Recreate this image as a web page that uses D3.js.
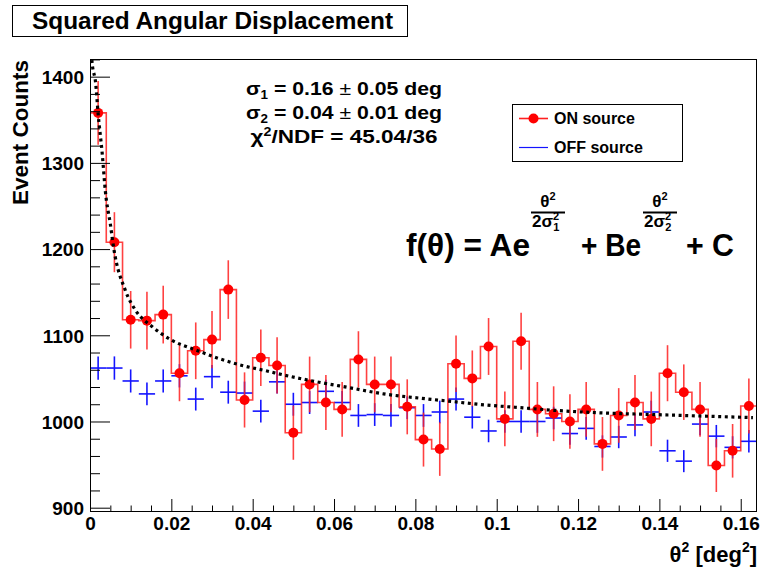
<!DOCTYPE html>
<html><head><meta charset="utf-8">
<script src="https://cdn.jsdelivr.net/npm/d3@7"></script>
<style>
body{margin:0;background:#fff}
svg{display:block}
text{font-family:"Liberation Sans",Arial,Helvetica,sans-serif;font-weight:bold;fill:#000}
</style>
</head><body>
<svg id="c" width="765" height="571"></svg>
<script>
// ---------- data ----------
const binCenters = [0.002,0.006,0.010,0.014,0.018,0.022,0.026,0.030,0.034,0.038,
  0.042,0.046,0.050,0.054,0.058,0.062,0.066,0.070,0.074,0.078,
  0.082,0.086,0.090,0.094,0.098,0.102,0.106,0.110,0.114,0.118,
  0.122,0.126,0.130,0.134,0.138,0.142,0.146,0.150,0.154,0.158,0.162];
const binHalfWidth = 0.002;
const onCounts = [1358,1208,1118,1117,1124,1056,1082,1095,1153,1025,
  1074,1065,987,1043,1022,1014,1072,1043,1043,1017,
  979,968,1067,1050,1087,1003,1093,1014,1009,1000,
  1014,974,1007,1022,1003,1056,1034,1014,949,966,1018];
const onErrors = [36.9,34.8,33.4,33.4,33.5,32.5,32.9,33.1,34.0,32.0,
  32.8,32.6,31.4,32.3,32.0,31.8,32.7,32.3,32.3,31.9,
  31.3,31.1,32.7,32.4,33.0,31.7,33.1,31.8,31.8,31.6,
  31.8,31.2,31.7,32.0,31.7,32.5,32.2,31.8,30.8,31.1,31.9];
const offCounts = [1062,1062,1047,1032,1047,1053,1026,1052,1034,1033,
  1012,1046,1020,1022,1035,1022,1007,1008,1007,1016,
  1007,1011,1026,1005,989,1000,1000,1000,1004,986,
  992,971,982,996,1011,966,954,997,983,970,977];
const offErrors = [13.5,13.5,13.4,13.3,13.4,13.5,13.3,13.5,13.3,13.3,
  13.2,13.4,13.3,13.3,13.3,13.3,13.2,13.2,13.2,13.2,
  13.2,13.2,13.3,13.2,13.1,13.1,13.1,13.1,13.1,13.0,
  13.1,12.9,13.0,13.1,13.2,12.9,12.8,13.1,13.0,12.9,13.0];
// fit curve
const fitX = [0,0.0005,0.0014,0.002,0.003,0.0038,0.005,0.0058,0.0087,0.0112,0.0153,0.0202,0.026,0.0317,0.0374,0.0431,0.0476,0.0558,0.064,0.0722,0.0812,0.0894,0.0976,0.1058,0.114,0.1255,0.139,0.156,0.163];
const fitY = [1450,1417,1392,1357,1311,1266,1229,1202,1152,1129,1110,1094,1083,1073,1065,1059,1054,1046,1039,1032,1027,1023,1019,1016,1013,1010,1008,1005.5,1004.5];
const xMajorTicks = [0,0.02,0.04,0.06,0.08,0.10,0.12,0.14,0.16];
const xTickLabels = ["0","0.02","0.04","0.06","0.08","0.1","0.12","0.14","0.16"];
const xMinorTicks = [0.005,0.01,0.015,0.025,0.03,0.035,0.045,0.05,0.055,0.065,0.07,0.075,0.085,0.09,0.095,0.105,0.11,0.115,0.125,0.13,0.135,0.145,0.15,0.155];
const yMajorTicks = [900,1000,1100,1200,1300,1400];
const yTickLabels = ["900","1000","1100","1200","1300","1400"];
const yMinorTicks = [920,940,960,980,1020,1040,1060,1080,1120,1140,1160,1180,1220,1240,1260,1280,1320,1340,1360,1380,1420];
const xDomain = [0,0.164];
const yDomain = [895,1420.5];

// ---------- chart ----------
const svg = d3.select("#c");
const L=90, R=757, T=59, B=512;
const x = d3.scaleLinear().domain(xDomain).range([L,R]);
const y = d3.scaleLinear().domain(yDomain).range([B,T]);

svg.append("rect").attr("width",765).attr("height",571).attr("fill","#fff");
svg.append("defs").append("clipPath").attr("id","clip")
  .append("rect").attr("x",L).attr("y",T).attr("width",R-L).attr("height",B-T);

const plot = svg.append("g").attr("clip-path","url(#clip)");

// OFF source crosses (blue)
const blue="#1414ff";
const offG = plot.append("g").attr("stroke",blue).attr("stroke-width",1.6).attr("fill","none");
binCenters.forEach((c,i)=>{
  offG.append("line").attr("x1",x(c-binHalfWidth)).attr("x2",x(c+binHalfWidth))
    .attr("y1",y(offCounts[i])).attr("y2",y(offCounts[i]));
  offG.append("line").attr("x1",x(c)).attr("x2",x(c))
    .attr("y1",y(offCounts[i]-offErrors[i])).attr("y2",y(offCounts[i]+offErrors[i]));
});

// ON source histogram (red)
const red="#ff2020";
const stepPts = binCenters.map((c,i)=>[c-binHalfWidth,onCounts[i]]);
stepPts.push([binCenters[binCenters.length-1]+binHalfWidth,onCounts[onCounts.length-1]]);
plot.append("path").datum(stepPts)
  .attr("d",d3.line().x(d=>x(d[0])).y(d=>y(d[1])).curve(d3.curveStepAfter))
  .attr("fill","none").attr("stroke",red).attr("stroke-width",1.6).attr("stroke-opacity",0.85);
const onG = plot.append("g");
binCenters.forEach((c,i)=>{
  onG.append("line").attr("x1",x(c)).attr("x2",x(c))
    .attr("y1",y(onCounts[i]-onErrors[i])).attr("y2",y(onCounts[i]+onErrors[i]))
    .attr("stroke",red).attr("stroke-width",1.6).attr("stroke-opacity",0.85);
});

// fit curve (dotted)
plot.append("path").datum(fitX.map((v,i)=>[v,fitY[i]]))
  .attr("d",d3.line().x(d=>x(d[0])).y(d=>y(d[1])).curve(d3.curveMonotoneX))
  .attr("fill","none").attr("stroke","#000").attr("stroke-width",3.2)
  .attr("stroke-dasharray","3,3.6");

// markers
binCenters.forEach((c,i)=>{
  onG.append("circle").attr("cx",x(c)).attr("cy",y(onCounts[i])).attr("r",5).attr("fill","#ff0000");
});

// axes
const axFont = 19;
const yAx = svg.append("g").attr("transform",`translate(${L},0)`)
  .call(d3.axisLeft(y).tickValues(yMajorTicks).tickSize(-20).tickPadding(6)
    .tickFormat((d,i)=>yTickLabels[i]));
svg.append("g").attr("transform",`translate(${L},0)`)
  .call(d3.axisLeft(y).tickValues(yMinorTicks).tickSize(-10).tickFormat(""));
const xAx = svg.append("g").attr("transform",`translate(0,${B})`)
  .call(d3.axisBottom(x).tickValues(xMajorTicks).tickSize(-13).tickPadding(4)
    .tickFormat((d,i)=>xTickLabels[i]));
svg.append("g").attr("transform",`translate(0,${B})`)
  .call(d3.axisBottom(x).tickValues(xMinorTicks).tickSize(-6.5).tickFormat(""));
svg.selectAll(".domain").remove();
svg.selectAll(".tick line").attr("stroke","#000").attr("stroke-width",1);
svg.selectAll(".tick text").attr("font-size",axFont).attr("font-family",null).attr("fill","#000");
yAx.selectAll(".tick text").attr("dy","0.36em");
xAx.selectAll(".tick text").attr("dy","0.72em");

// frame
svg.append("rect").attr("x",L+0.5).attr("y",T+0.5).attr("width",R-L-1).attr("height",B-T-1)
  .attr("fill","none").attr("stroke","#000").attr("stroke-width",1);

// axis titles
svg.append("text").attr("transform","translate(28,60) rotate(-90)")
  .attr("text-anchor","end").attr("font-size",22).attr("textLength",145)
  .attr("lengthAdjust","spacingAndGlyphs").text("Event Counts");
const xt = svg.append("text").attr("x",757).attr("y",562).attr("text-anchor","end").attr("font-size",22);
xt.append("tspan").text("θ");
xt.append("tspan").attr("font-size",14).attr("dy",-10).text("2");
xt.append("tspan").attr("dy",10).text(" [deg");
xt.append("tspan").attr("font-size",14).attr("dy",-10).text("2");
xt.append("tspan").attr("dy",10).text("]");

// title box
svg.append("rect").attr("x",12.5).attr("y",5.5).attr("width",395).attr("height",31)
  .attr("fill","#fff").attr("stroke","#000");
svg.append("text").attr("x",32).attr("y",29).attr("font-size",23.5)
  .attr("textLength",361).attr("lengthAdjust","spacingAndGlyphs")
  .text("Squared Angular Displacement");

// fit results
function statLine(yy, len, parts){
  const t = svg.append("text").attr("x",344-len/2).attr("y",yy).attr("font-size",19)
    .attr("textLength",len).attr("lengthAdjust","spacingAndGlyphs");
  parts.forEach(p=>{
    const s=t.append("tspan").text(p.t);
    if(p.fs) s.attr("font-size",p.fs);
    if(p.dy) s.attr("dy",p.dy);
    if(p.w) s.attr("font-weight",p.w);
  });
}
statLine(95,196,[{t:"σ"},{t:"1",fs:12,dy:4},{t:" = 0.16 ",dy:-4},{t:"±",w:"normal"},{t:" 0.05 deg"}]);
statLine(118.5,196,[{t:"σ"},{t:"2",fs:12,dy:4},{t:" = 0.04 ",dy:-4},{t:"±",w:"normal"},{t:" 0.01 deg"}]);
statLine(142.5,187,[{t:"χ"},{t:"2",fs:12,dy:-7},{t:"/NDF = 45.04/36",dy:7}]);

// legend
svg.append("rect").attr("x",512.5).attr("y",104.5).attr("width",170).attr("height",57)
  .attr("fill","#fff").attr("stroke","#000");
svg.append("line").attr("x1",519).attr("x2",548).attr("y1",118.5).attr("y2",118.5).attr("stroke",red).attr("stroke-width",1.6);
svg.append("circle").attr("cx",533.5).attr("cy",118.5).attr("r",5).attr("fill","#ff0000");
svg.append("text").attr("x",554).attr("y",124).attr("font-size",16).text("ON source");
svg.append("line").attr("x1",519).attr("x2",548).attr("y1",147.5).attr("y2",147.5).attr("stroke",blue).attr("stroke-width",1.2);
svg.append("text").attr("x",554).attr("y",153).attr("font-size",16).text("OFF source");

// formula
const fy = 256;
function big(x0, len, s){
  svg.append("text").attr("x",x0).attr("y",fy).attr("font-size",32)
    .attr("textLength",len).attr("lengthAdjust","spacingAndGlyphs").text(s);
}
big(406,124,"f(θ) = Ae");
function frac(cx, sub){
  const n = svg.append("text").attr("x",cx).attr("y",207).attr("text-anchor","middle").attr("font-size",17);
  n.append("tspan").text("θ"); n.append("tspan").attr("font-size",11).attr("dy",-7).text("2");
  svg.append("line").attr("x1",cx-17).attr("x2",cx+17).attr("y1",212.5).attr("y2",212.5).attr("stroke","#000").attr("stroke-width",2);
  const d = svg.append("text").attr("x",cx-16).attr("y",227).attr("font-size",17);
  d.append("tspan").text("2σ");
  d.append("tspan").attr("font-size",11).attr("dy",-7).text("2");
  d.append("tspan").attr("font-size",11).attr("dx",-6).attr("dy",11).text(sub);
}
frac(548,"1");
big(581,60,"+ Be");
frac(660,"2");
big(686,48,"+ C");
</script>
</body></html>
